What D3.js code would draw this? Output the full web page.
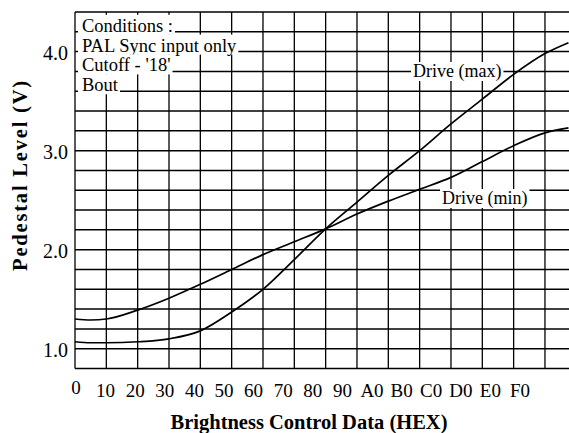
<!DOCTYPE html>
<html><head><meta charset="utf-8">
<script src="https://cdn.jsdelivr.net/npm/d3@7"></script>
<style>
body{margin:0;background:#fff}
svg{display:block;background:#fff}
text{font-family:"Liberation Serif","Times New Roman",serif;fill:#000}
</style>
</head><body><svg id="c" width="569" height="433"></svg>
<script>
// ---- data (brightness code, pedestal level in volts) ----
const codes     = [0x00,0x08,0x10,0x20,0x30,0x40,0x50,0x60,0x70,0x80,0x90,0xA0,0xB0,0xC0,0xD0,0xE0,0xF0,0xFC];
const driveMax  = [1.07,1.06,1.06,1.07,1.10,1.18,1.37,1.60,1.90,2.21,2.48,2.75,3.00,3.27,3.52,3.77,3.98,4.09];
const driveMin  = [1.30,1.29,1.30,1.39,1.51,1.65,1.80,1.95,2.08,2.21,2.36,2.49,2.61,2.73,2.89,3.05,3.18,3.23];
const xTickLabels = ["0","10","20","30","40","50","60","70","80","90","A0","B0","C0","D0","E0","F0"];
const yTickValues = [1.0,2.0,3.0,4.0];
const conditions  = ["Conditions :","PAL Sync input only","Cutoff - '18'","Bout"];
const conditionLevels = [4.2,4.0,3.8,3.6];
const seriesNames = ["Drive (max)","Drive (min)"];
const xTitle = "Brightness Control Data (HEX)";
const yTitle = "Pedestal Level (V)";

const svg = d3.select("#c");
const x = d3.scaleLinear().domain([0,256]).range([75,576.3]);
const y = d3.scaleLinear().domain([0.8,4.4]).range([368.5,12]);
const xLab = d3.scalePoint().domain(xTickLabels).range([76,520]);

// grid
const grid = svg.append("g");
grid.selectAll("line.h").data(d3.range(0,19).map(i=>+(0.8+i*0.2).toFixed(1))).join("line")
  .attr("x1",x(0)).attr("x2",569).attr("y1",d=>y(d)).attr("y2",d=>y(d))
  .attr("stroke","#000").attr("stroke-width",1.5);
grid.selectAll("line.v").data(d3.range(0,256,16)).join("line")
  .attr("x1",d=>x(d)).attr("x2",d=>x(d)).attr("y1",y(4.4)).attr("y2",y(0.8))
  .attr("stroke","#000").attr("stroke-width",1.3);

// conditions block (text masked over grid)
const cond = svg.append("g");
conditions.forEach((t,i)=>{
  const by = y(conditionLevels[i]);
  const r = cond.append("rect").attr("fill","#fff");
  const tx = cond.append("text").attr("x",82).attr("y",by).attr("font-size",18.5).text(t);
  const w = tx.node().getComputedTextLength();
  r.attr("x",78).attr("y",by-17).attr("width",w+6).attr("height",20);
});

// series labels
function maskedLabel(t,lx,ly){
  const r = svg.append("rect").attr("fill","#fff");
  const tx = svg.append("text").attr("x",lx).attr("y",ly).attr("font-size",18).text(t);
  const w = tx.node().getComputedTextLength();
  r.attr("x",lx-2).attr("y",ly-15).attr("width",w+4).attr("height",19);
}
maskedLabel(seriesNames[0],413,77);
maskedLabel(seriesNames[1],442,204);

// curves
const line = d3.line().x(d=>x(d[0])).y(d=>y(d[1])).curve(d3.curveMonotoneX);
[driveMax,driveMin].forEach(s=>{
  svg.append("path").datum(codes.map((c,i)=>[c,s[i]])).attr("d",line)
    .attr("fill","none").attr("stroke","#000").attr("stroke-width",1.7);
});

// axes labels
svg.append("g").selectAll("text").data(yTickValues).join("text")
  .attr("x",68).attr("y",d=>y(d)+8).attr("text-anchor","end").attr("font-size",20)
  .text(d=>d.toFixed(1));
svg.append("g").selectAll("text").data(xTickLabels).join("text")
  .attr("x",d=>xLab(d)).attr("y",d=>d==="0"?394:397).attr("text-anchor","middle").attr("font-size",19)
  .text(d=>d);

svg.append("text").attr("x",309).attr("y",429).attr("text-anchor","middle")
  .attr("font-size",20.5).attr("font-weight","bold").text(xTitle);
svg.append("text").attr("transform","translate(27,175) rotate(-90)").attr("text-anchor","middle")
  .attr("font-size",20.5).attr("font-weight","bold").attr("letter-spacing",1.8).text(yTitle);
</script>
</body></html>
